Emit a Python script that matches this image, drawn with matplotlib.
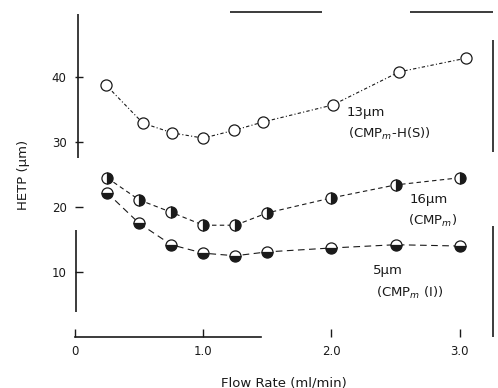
import numpy as np
import matplotlib
matplotlib.use("Agg")
import matplotlib.pyplot as plt

# flow rate (ml/min) and HETP (um)
flow = [0.25, 0.5, 0.75, 1.0, 1.25, 1.5, 2.0, 2.5, 3.0]
flow_13 = [0.24, 0.53, 0.76, 1.0, 1.24, 1.47, 2.01, 2.53, 3.05]
hetp_13 = [38.8, 32.9, 31.4, 30.6, 31.8, 33.1, 35.7, 40.8, 42.9]
hetp_16 = [24.5, 21.1, 19.2, 17.2, 17.2, 19.1, 21.4, 23.4, 24.5]
hetp_5 = [22.2, 17.5, 14.2, 12.9, 12.5, 13.1, 13.7, 14.2, 14.0]

xticks = [0, 1, 2, 3]
xtick_labels = ["0", "1.0", "2.0", "3.0"]
yticks = [10, 20, 30, 40]

ink = "#1a1a1a"
plt.rcParams["font.family"] = ["DejaVu Sans"]

fig = plt.figure(figsize=(4.98, 3.88), dpi=100)
ax = fig.add_axes([0.1506, 0.1314, 0.8394, 0.8376])
ax.set_xlim(0, 3.26)
ax.set_ylim(0, 50)

# series
ax.plot(flow_13, hetp_13, color=ink, lw=0.8, ls=(0, (3, 2, 1, 2)),
        marker="o", ms=8, mfc="white", mec=ink, mew=0.9)
ax.plot(flow, hetp_16, color=ink, lw=0.8, ls=(0, (4, 3)),
        marker="o", ms=8, fillstyle="right", mfc=ink, mfcalt="white", mec=ink, mew=0.9)
ax.plot(flow, hetp_5, color=ink, lw=0.8, ls=(0, (6, 4)),
        marker="o", ms=8, fillstyle="bottom", mfc=ink, mfcalt="white", mec=ink, mew=0.9)

# labels next to the curves
fs = 9.5
ax.text(2.12, 34.5, "13\u03bcm", fontsize=fs, color=ink, va="center")
ax.text(2.13, 31.2, "(CMP$_m$-H(S))", fontsize=fs, color=ink, va="center")
ax.text(2.61, 21.2, "16\u03bcm", fontsize=fs, color=ink, va="center")
ax.text(2.60, 17.8, "(CMP$_m$)", fontsize=fs, color=ink, va="center")
ax.text(2.32, 10.3, "5\u03bcm", fontsize=fs, color=ink, va="center")
ax.text(2.35, 6.8, "(CMP$_m$ (I))", fontsize=fs, color=ink, va="center")

# broken frame as in the scan
for s in ["left", "right", "top"]:
    ax.spines[s].set_visible(False)
ax.spines["bottom"].set_bounds(0, 1.45)
ax.spines["bottom"].set_linewidth(1.2)
ax.spines["bottom"].set_color(ink)

yt = ax.get_yaxis_transform()
xt = ax.get_xaxis_transform()
frame = dict(color=ink, lw=1.2, clip_on=False, solid_capstyle="butt")
ax.plot([0.006, 0.006], [27.5, 49.7], transform=yt, **frame)
ax.plot([0.002, 0.002], [3.8, 16.5], transform=yt, **frame)
ax.plot([1.0, 1.0], [28.5, 45.7], transform=yt, **frame)
ax.plot([1.0, 1.0], [0, 17.1], transform=yt, **frame)
ax.plot([1.21, 1.93], [1.0, 1.0], transform=xt, **frame)
ax.plot([2.61, 3.26], [1.0, 1.0], transform=xt, **frame)

ax.set_xticks(xticks)
ax.set_xticklabels(xtick_labels)
ax.set_yticks(yticks)
ax.tick_params(axis="both", direction="in", length=6, width=1.0, colors=ink,
               labelsize=8.5, pad=6)

ax.set_xlabel("Flow Rate (ml/min)", fontsize=9.5, color=ink, labelpad=13)
ax.set_ylabel("HETP (\u03bcm)", fontsize=9.5, color=ink, labelpad=16)

fig.savefig("out.png", dpi=100)
